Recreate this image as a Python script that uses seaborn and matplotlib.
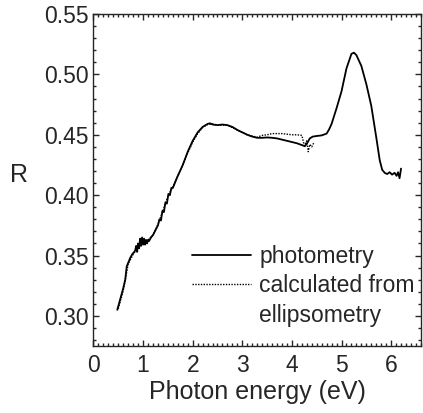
import numpy as np
import pandas as pd
import matplotlib.pyplot as plt
import seaborn as sns
from matplotlib.lines import Line2D
from matplotlib.ticker import MultipleLocator

# photometry spectrum
photo_energy = [0.48, 0.52, 0.56, 0.60, 0.64, 0.67, 0.70, 0.74, 0.78, 0.82, 0.84, 0.86,
                0.88, 0.90, 0.92, 0.94, 0.96, 0.98, 1.00, 1.02, 1.04, 1.06, 1.08, 1.10,
                1.12, 1.16, 1.20, 1.25, 1.30, 1.33, 1.36, 1.39, 1.42, 1.45, 1.48, 1.51,
                1.54, 1.57, 1.60, 1.65, 1.70, 1.80, 1.90, 2.00, 2.10, 2.20,
                2.30, 2.35, 2.40, 2.50, 2.60, 2.70, 2.80, 2.90, 3.00, 3.10, 3.20, 3.30,
                3.40, 3.50, 3.60, 3.70, 3.80, 3.90, 4.00, 4.10, 4.20, 4.26, 4.30, 4.36,
                4.42, 4.50, 4.60, 4.70, 4.75, 4.80, 4.90, 5.00, 5.10, 5.20, 5.25, 5.30,
                5.40, 5.50, 5.60, 5.70, 5.77, 5.82, 5.87, 5.92, 5.97, 6.02, 6.07, 6.11,
                6.14, 6.17, 6.20]
photo_R = [0.305, 0.311, 0.317, 0.323, 0.330, 0.341, 0.344, 0.348, 0.351, 0.353, 0.354, 0.358,
           0.353, 0.360, 0.356, 0.364, 0.358, 0.365, 0.359, 0.364, 0.359, 0.363, 0.360, 0.363,
           0.362, 0.365, 0.367, 0.371, 0.375, 0.380, 0.379, 0.387, 0.386, 0.394, 0.393, 0.401,
           0.400, 0.406, 0.406, 0.411, 0.416, 0.425, 0.436, 0.445, 0.452, 0.4565,
           0.459, 0.4595, 0.4585, 0.458, 0.4585, 0.458, 0.4565, 0.454, 0.452, 0.450, 0.4485, 0.4475,
           0.4475, 0.4478, 0.4475, 0.447, 0.446, 0.445, 0.444, 0.443, 0.4415, 0.4405, 0.4425, 0.447,
           0.4485, 0.449, 0.4495, 0.451, 0.4545, 0.459, 0.472, 0.486, 0.505, 0.517, 0.518, 0.516,
           0.507, 0.492, 0.474, 0.448, 0.429, 0.421, 0.4185, 0.4175, 0.419, 0.417, 0.4185, 0.416,
           0.419, 0.414, 0.422]

# reflectance calculated from ellipsometry
ellips_energy = [0.50, 0.60, 0.70, 0.80, 0.90, 1.00, 1.10, 1.20, 1.30, 1.40, 1.50, 1.60,
                 1.70, 1.80, 1.90, 2.00, 2.10, 2.20, 2.30, 2.40, 2.50, 2.60, 2.70, 2.80,
                 2.90, 3.00, 3.10, 3.20, 3.30, 3.40, 3.50, 3.60, 3.70, 3.80, 3.90, 4.00,
                 4.10, 4.20, 4.25, 4.30, 4.33, 4.36, 4.40, 4.45]
ellips_R = [0.306, 0.321, 0.343, 0.351, 0.357, 0.361, 0.363, 0.367, 0.376, 0.387, 0.399, 0.407,
            0.416, 0.425, 0.435, 0.444, 0.451, 0.456, 0.4585, 0.459, 0.458, 0.458, 0.458, 0.456,
            0.454, 0.452, 0.450, 0.449, 0.448, 0.4495, 0.450, 0.451, 0.451, 0.451, 0.4505, 0.450,
            0.450, 0.4495, 0.441, 0.445, 0.436, 0.442, 0.440, 0.444]

photo = pd.DataFrame({'E': photo_energy, 'R': photo_R})
ellips = pd.DataFrame({'E': ellips_energy, 'R': ellips_R})

sns.set_style('ticks')
plt.rcParams['font.family'] = ['Liberation Sans', 'DejaVu Sans']

fig = plt.figure(figsize=(4.23, 4.13), dpi=100)
ax = fig.add_axes([0.221, 0.162, 0.774, 0.804])

sns.lineplot(data=ellips, x='E', y='R', ax=ax, color='black', lw=1.0,
             linestyle=(0, (1, 1)), estimator=None)
sns.lineplot(data=photo, x='E', y='R', ax=ax, color='black', lw=1.3, estimator=None)

ax.set_xlim(0, 6.6)
ax.set_ylim(0.275, 0.55)
ax.xaxis.set_major_locator(MultipleLocator(1))
ax.xaxis.set_minor_locator(MultipleLocator(0.1))
ax.yaxis.set_major_locator(MultipleLocator(0.05))
ax.yaxis.set_minor_locator(MultipleLocator(0.01))
ax.yaxis.set_major_formatter(plt.FormatStrFormatter('%.2f'))
ax.tick_params(which='both', direction='in', top=True, right=True, labelsize=16.5, width=1)
ax.tick_params(which='major', length=4.3)
ax.tick_params(axis='x', which='major', pad=6)
ax.tick_params(which='minor', length=2.2)
for s in ax.spines.values():
    s.set_linewidth(1.0)

ax.set_xlabel('Photon energy (eV)', fontsize=18, labelpad=2)
ax.set_ylabel('R', fontsize=18, rotation=0, va='center')
ax.yaxis.set_label_coords(-0.228, 0.515)

handles = [Line2D([], [], color='black', lw=1.3),
           Line2D([], [], color='black', lw=1.0, linestyle=(0, (1, 1))),
           Line2D([], [], linestyle='none')]
labels = ['photometry', 'calculated from', 'ellipsometry']
ax.legend(handles, labels, loc='upper left', bbox_to_anchor=(0.30, 0.305), frameon=False,
          fontsize=16.5, handlelength=2.6, handletextpad=0.35, labelspacing=0.28,
          borderpad=0, borderaxespad=0)

fig.savefig('out.png', dpi=100)
